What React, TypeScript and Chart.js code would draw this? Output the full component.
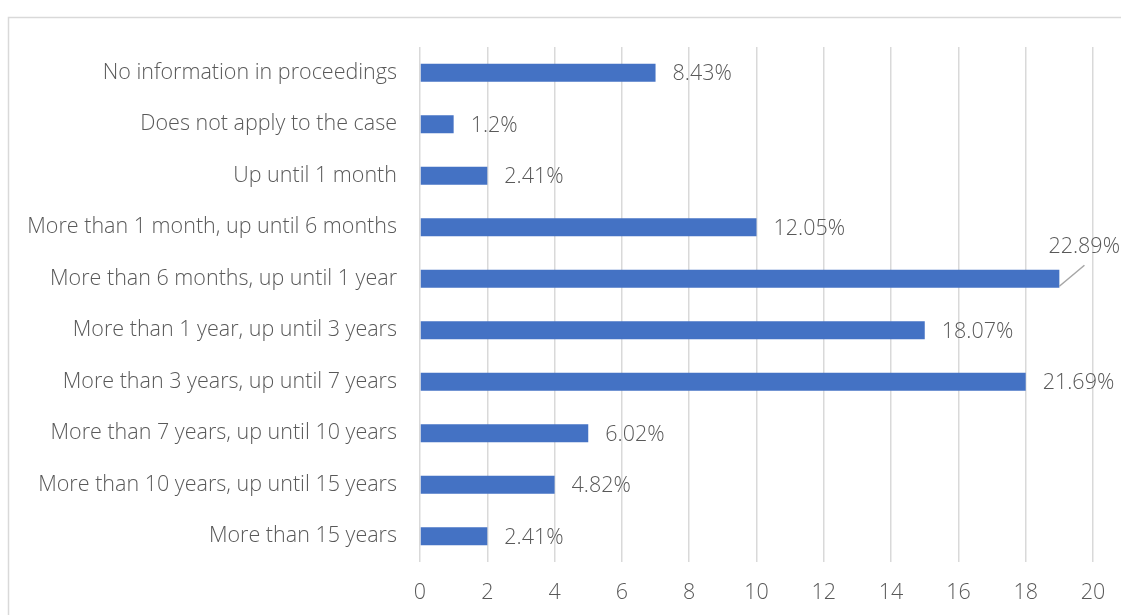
import React, { useEffect, useRef } from "react";
import { Chart, registerables } from "chart.js";

Chart.register(...registerables);

const categories = [
  "No information in proceedings",
  "Does not apply to the case",
  "Up until 1 month",
  "More than 1 month, up until 6 months",
  "More than 6 months, up until 1 year",
  "More than 1 year, up until 3 years",
  "More than 3 years, up until 7 years",
  "More than 7 years, up until 10 years",
  "More than 10 years, up until 15 years",
  "More than 15 years",
];

const counts = [7, 1, 2, 10, 19, 15, 18, 5, 4, 2];

const percentLabels = [
  "8.43%",
  "1.2%",
  "2.41%",
  "12.05%",
  "22.89%",
  "18.07%",
  "21.69%",
  "6.02%",
  "4.82%",
  "2.41%",
];

const xTicks = [0, 2, 4, 6, 8, 10, 12, 14, 16, 18, 20];

const FONT = "'Open Sans', sans-serif";
const FONT_SIZE = 21.5;
const FONT_WEIGHT = 300;
const TEXT = "#595959";

// Light frame around the chart box
const framePlugin = {
  id: "frame",
  beforeDraw(chart: any) {
    const { ctx } = chart;
    ctx.save();
    ctx.fillStyle = "#ffffff";
    ctx.fillRect(0, 0, chart.width, chart.height);
    ctx.strokeStyle = "#d9d9d9";
    ctx.lineWidth = 1.5;
    ctx.beginPath();
    ctx.moveTo(8.5, chart.height + 5);
    ctx.lineTo(8.5, 17.5);
    ctx.lineTo(chart.width + 5, 17.5);
    ctx.stroke();
    ctx.restore();
  },
};

// Percentage labels at the end of each bar; a label that would run off
// the right edge is lifted above its bar with a leader line.
const valueLabelPlugin = {
  id: "valueLabels",
  afterDatasetsDraw(chart: any) {
    const { ctx } = chart;
    const meta = chart.getDatasetMeta(0);
    ctx.save();
    ctx.font = `${FONT_WEIGHT} ${FONT_SIZE}px ${FONT}`;
    ctx.fillStyle = TEXT;
    ctx.textBaseline = "middle";
    ctx.textAlign = "left";
    meta.data.forEach((bar: any, i: number) => {
      const text = percentLabels[i];
      const w = ctx.measureText(text).width;
      const x = bar.x + 17;
      const y = bar.y + 1.5;
      if (x + w > chart.width - 1) {
        const tx = chart.width - 1 - w;
        const ty = y - 33;
        ctx.strokeStyle = "#a6a6a6";
        ctx.lineWidth = 1.5;
        ctx.beginPath();
        ctx.moveTo(bar.x, y + 6);
        ctx.lineTo(tx + 36, ty + 18);
        ctx.stroke();
        ctx.fillText(text, tx, ty);
      } else {
        ctx.fillText(text, x, y);
      }
    });
    ctx.restore();
  },
};

export default function App() {
  const canvasRef = useRef<HTMLCanvasElement | null>(null);

  useEffect(() => {
    if (!canvasRef.current) return;
    const chart = new Chart(canvasRef.current, {
      type: "bar",
      data: {
        labels: categories,
        datasets: [
          {
            data: counts,
            backgroundColor: "#4472C4",
            borderWidth: 0,
            categoryPercentage: 1,
            barPercentage: 0.35,
          },
        ],
      },
      options: {
        indexAxis: "y",
        animation: false,
        responsive: false,
        maintainAspectRatio: false,
        layout: { padding: { top: 47, right: 28, left: 0, bottom: 0 } },
        plugins: {
          legend: { display: false },
          tooltip: { enabled: false },
        },
        scales: {
          x: {
            min: 0,
            max: 20,
            afterBuildTicks(scale: any) {
              scale.ticks = xTicks.map((v) => ({ value: v }));
            },
            afterFit(scale: any) {
              scale.height = 53;
              scale.paddingLeft = 0;
              scale.paddingRight = 0;
            },
            grid: {
              color: "#d9d9d9",
              lineWidth: 1.5,
              drawTicks: false,
            },
            border: { display: false },
            ticks: {
              color: TEXT,
              font: { family: FONT, size: FONT_SIZE, weight: FONT_WEIGHT },
              padding: 18,
            },
          },
          y: {
            afterFit(scale: any) {
              scale.width = 420;
            },
            grid: { display: false, drawTicks: false },
            border: { display: false },
            ticks: {
              color: TEXT,
              font: { family: FONT, size: FONT_SIZE, weight: FONT_WEIGHT },
              padding: 23,
            },
          },
        },
      },
      plugins: [framePlugin, valueLabelPlugin],
    });
    return () => chart.destroy();
  }, []);

  return (
    <div style={{ position: "fixed", left: 0, top: 0, width: 1121, height: 615 }}>
      <canvas ref={canvasRef} width={1121} height={615} style={{ display: "block" }} />
    </div>
  );
}
